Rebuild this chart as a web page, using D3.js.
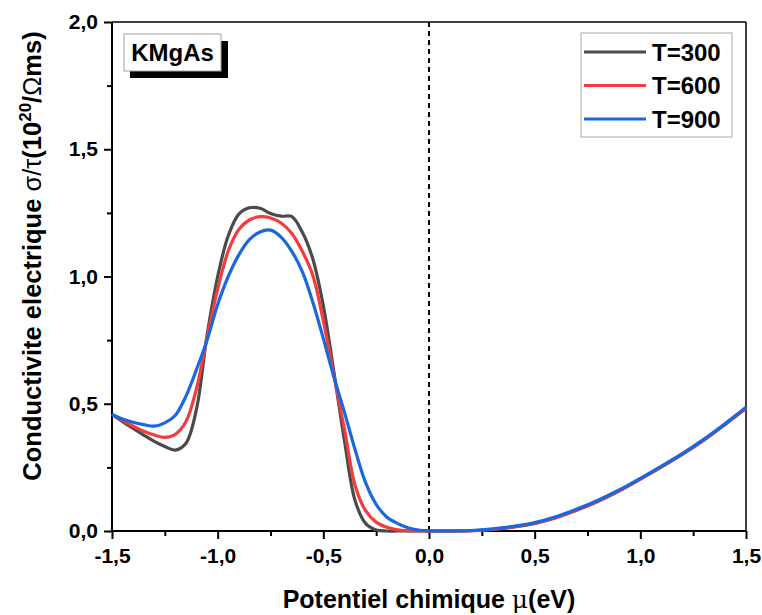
<!DOCTYPE html>
<html>
<head>
<meta charset="utf-8">
<script src="https://cdn.jsdelivr.net/npm/d3@7"></script>
<style>
  body { margin: 0; background: #fff; }
  text { font-family: Arial, "Liberation Sans", sans-serif; font-weight: bold; }
</style>
</head>
<body>
<svg id="chart" width="762" height="615"></svg>
<script>
// potentiel chimique (eV)
var mu = [-1.5, -1.45, -1.4, -1.35, -1.3, -1.25, -1.2, -1.15, -1.1, -1.05,
          -1.0, -0.95, -0.9, -0.85, -0.8, -0.75, -0.7, -0.65, -0.6, -0.55,
          -0.5, -0.45, -0.4, -0.35, -0.3, -0.25, -0.2, -0.15, -0.1, -0.05,
          0.0, 0.1, 0.2, 0.3, 0.4, 0.5, 0.6, 0.7, 0.8, 0.9,
          1.0, 1.1, 1.2, 1.3, 1.4, 1.5];

var sigmaT300 = [0.458, 0.430, 0.403, 0.377, 0.352, 0.332, 0.318, 0.345, 0.480, 0.770,
                 1.000, 1.160, 1.245, 1.270, 1.268, 1.248, 1.237, 1.236, 1.175, 1.070,
                 0.885, 0.625, 0.355, 0.120, 0.030, 0.004, 0.000, 0.000, 0.000, 0.000,
                 0.000, 0.000, 0.001, 0.006, 0.016, 0.030, 0.052, 0.082, 0.117, 0.158,
                 0.204, 0.252, 0.302, 0.357, 0.418, 0.482];

var sigmaT600 = [0.458, 0.435, 0.412, 0.392, 0.377, 0.368, 0.380, 0.430, 0.560, 0.760,
                 0.950, 1.100, 1.185, 1.222, 1.235, 1.230, 1.210, 1.170, 1.100, 1.005,
                 0.825, 0.610, 0.400, 0.180, 0.080, 0.035, 0.015, 0.005, 0.001, 0.000,
                 0.000, 0.000, 0.001, 0.006, 0.016, 0.030, 0.052, 0.082, 0.117, 0.158,
                 0.204, 0.252, 0.302, 0.357, 0.418, 0.482];

var sigmaT900 = [0.458, 0.440, 0.427, 0.418, 0.412, 0.425, 0.455, 0.530, 0.635, 0.750,
                 0.890, 1.000, 1.085, 1.145, 1.175, 1.182, 1.155, 1.100, 1.020, 0.900,
                 0.756, 0.605, 0.466, 0.320, 0.190, 0.105, 0.055, 0.030, 0.013, 0.004,
                 0.001, 0.000, 0.002, 0.008, 0.018, 0.033, 0.056, 0.086, 0.121, 0.161,
                 0.207, 0.255, 0.305, 0.360, 0.421, 0.486];

var seriesNames = ["T=300", "T=600", "T=900"];
var seriesColors = ["#4a4a4a", "#f53b3b", "#1b67e0"];
var seriesValues = [sigmaT300, sigmaT600, sigmaT900];

var xTicks = [-1.5, -1.0, -0.5, 0.0, 0.5, 1.0, 1.5];
var yTicks = [0.0, 0.5, 1.0, 1.5, 2.0];

var margin = {top: 22, right: 16, bottom: 84, left: 112};
var W = 762, H = 615;
var w = W - margin.left - margin.right,
    h = H - margin.top - margin.bottom;

var svg = d3.select("#chart");
var g = svg.append("g").attr("transform", "translate(" + margin.left + "," + margin.top + ")");

var x = d3.scaleLinear().domain([-1.5, 1.5]).range([0, w]);
var y = d3.scaleLinear().domain([0, 2.0]).range([h, 0]);

var fmt = function(d) { return d3.format(".1f")(d).replace(".", ",").replace("−", "-"); };

// ticks mineurs
var xMinor = d3.range(-1.5, 1.5001, 0.25).filter(function(d) { return Math.abs(d * 2 - Math.round(d * 2)) > 0.01; });
var yMinor = d3.range(0.25, 2.0, 0.5);

g.append("g").attr("transform", "translate(0," + h + ")")
  .call(d3.axisBottom(x).tickValues(xMinor).tickSize(5).tickFormat(""))
  .call(function(a) { a.select(".domain").remove(); a.selectAll("line").attr("stroke-width", 2); });
g.append("g")
  .call(d3.axisLeft(y).tickValues(yMinor).tickSize(5).tickFormat(""))
  .call(function(a) { a.select(".domain").remove(); a.selectAll("line").attr("stroke-width", 2); });

// axes principaux
var xAxis = g.append("g").attr("transform", "translate(0," + h + ")")
  .call(d3.axisBottom(x).tickValues(xTicks).tickSize(8).tickPadding(9).tickFormat(fmt));
xAxis.selectAll("text").attr("font-size", 21).attr("fill", "#000");
var yAxis = g.append("g")
  .call(d3.axisLeft(y).tickValues(yTicks).tickSize(8).tickPadding(6).tickFormat(fmt));
yAxis.selectAll("text").attr("font-size", 21).attr("fill", "#000");
g.selectAll(".domain").remove();
g.selectAll(".tick line").attr("stroke-width", 2);

// cadre
g.append("line").attr("x1", 0).attr("x2", w).attr("y1", h).attr("y2", h).attr("stroke", "#000").attr("stroke-width", 2);
g.append("line").attr("x1", 0).attr("x2", 0).attr("y1", 0).attr("y2", h).attr("stroke", "#000").attr("stroke-width", 2);
g.append("line").attr("x1", 0).attr("x2", w).attr("y1", 0).attr("y2", 0).attr("stroke", "#000").attr("stroke-width", 1.5);
g.append("line").attr("x1", w).attr("x2", w).attr("y1", 0).attr("y2", h).attr("stroke", "#000").attr("stroke-width", 1.5);

// ligne pointillee a mu = 0
g.append("line").attr("x1", x(0)).attr("x2", x(0)).attr("y1", 0).attr("y2", h)
  .attr("stroke", "#000").attr("stroke-width", 2).attr("stroke-dasharray", "5,4");

// courbes
var line = d3.line()
  .x(function(d) { return x(d[0]); })
  .y(function(d) { return y(d[1]); })
  .curve(d3.curveCatmullRom.alpha(0.5));

seriesValues.forEach(function(vals, i) {
  var pts = mu.map(function(m, j) { return [m, vals[j]]; });
  g.append("path").datum(pts)
    .attr("d", line)
    .attr("fill", "none")
    .attr("stroke", seriesColors[i])
    .attr("stroke-width", 3.2)
    .attr("stroke-linejoin", "round");
});

// etiquette KMgAs
svg.append("rect").attr("x", 130).attr("y", 41).attr("width", 98).attr("height", 37).attr("fill", "#000");
svg.append("rect").attr("x", 124).attr("y", 34).attr("width", 97).attr("height", 37)
  .attr("fill", "#fff").attr("stroke", "#a0a0a0").attr("stroke-width", 1);
svg.append("text").attr("x", 172.5).attr("y", 61).attr("text-anchor", "middle")
  .attr("font-size", 24).text("KMgAs");

// legende
var legend = svg.append("g");
legend.append("rect").attr("x", 581).attr("y", 33).attr("width", 151).attr("height", 104)
  .attr("fill", "#fff").attr("stroke", "#a8a8a8").attr("stroke-width", 1);
seriesNames.forEach(function(name, i) {
  var ly = 52 + i * 33.5;
  legend.append("line").attr("x1", 584).attr("x2", 646).attr("y1", ly).attr("y2", ly)
    .attr("stroke", seriesColors[i]).attr("stroke-width", 3.2);
  legend.append("text").attr("x", 652).attr("y", ly + 8.5).attr("font-size", 24).text(name);
});

// titres des axes
svg.append("text").attr("x", margin.left + w / 2).attr("y", 608).attr("text-anchor", "middle")
  .attr("font-size", 25)
  .html('Potentiel chimique <tspan font-weight="normal" font-family="DejaVu Serif, serif">μ</tspan>(eV)');

svg.append("text").attr("transform", "translate(41,256) rotate(-90)").attr("text-anchor", "middle")
  .attr("font-size", 25.5)
  .html('Conductivite electrique <tspan font-weight="normal">σ/τ</tspan>(10<tspan dy="-10" font-size="17">20</tspan><tspan dy="10">/</tspan><tspan font-weight="normal">Ω</tspan>ms)');
</script>
</body>
</html>
